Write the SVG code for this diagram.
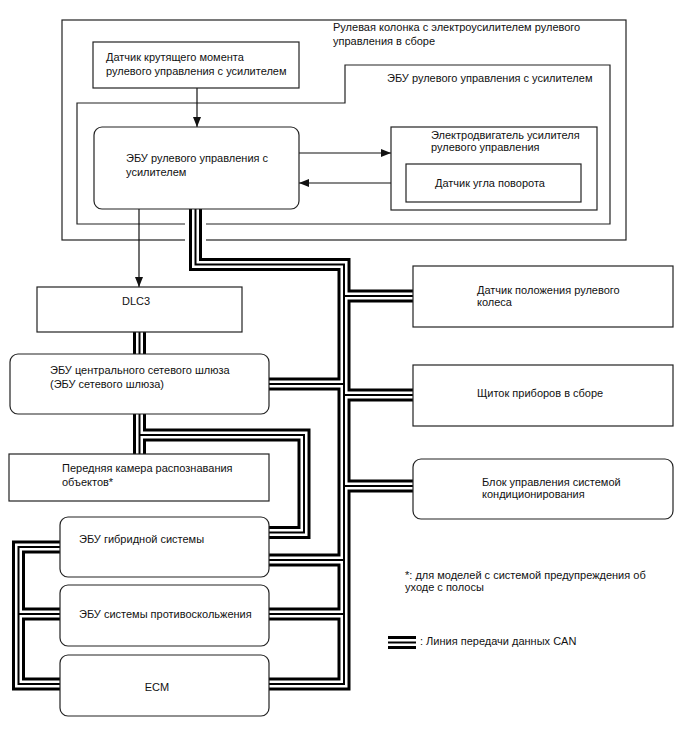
<svg xmlns="http://www.w3.org/2000/svg" xmlns:xlink="http://www.w3.org/1999/xlink" width="688" height="755" viewBox="0 0 688 755">
<style>
  text { font-family: "Liberation Sans", Arial, sans-serif; font-size: 11px; fill: #111; }
  .box { fill: #fff; stroke: #222; stroke-width: 1.2; }
  .frame { fill: none; stroke: #222; stroke-width: 1.2; }
  .arrow { fill: none; stroke: #111; stroke-width: 1.2; }
  .halo { fill: none; stroke: #fff; stroke-width: 21; stroke-linejoin: miter; stroke-linecap: butt; }
  .can-o { fill: none; stroke: #000; stroke-width: 13; stroke-linejoin: miter; stroke-linecap: butt; }
  .can-w { fill: none; stroke: #fff; stroke-width: 7; stroke-linejoin: miter; stroke-linecap: butt; }
  .can-i { fill: none; stroke: #000; stroke-width: 2; stroke-linejoin: miter; stroke-linecap: butt; }
</style>
<defs>
  <marker id="ah" markerUnits="userSpaceOnUse" markerWidth="10" markerHeight="8" refX="10" refY="4" orient="auto">
    <path d="M0,0 L10,4 L0,8 z" fill="#111"/>
  </marker>
  <path id="b1" d="M195.5,209 V264.5 H344 V684 H269"/>
  <path id="b2" d="M344,296 H413"/>
  <path id="b3" d="M269,384 H344"/>
  <path id="b4" d="M344,395 H413"/>
  <path id="b5" d="M344,486 H413"/>
  <path id="b6" d="M269,560 H344"/>
  <path id="b7" d="M269,614 H344"/>
  <path id="b8" d="M139.5,332 V354"/>
  <path id="b9" d="M139.5,414 V454"/>
  <path id="b10" d="M139.5,435 H304 V532.5 H269"/>
  <path id="b11" d="M60,547 H18.5 V684 H60"/>
  <path id="b12" d="M18.5,614 H60"/>
  <path id="leg" d="M388,642.5 H416"/>
</defs>
<rect width="688" height="755" fill="#fff"/>

<g id="frames">
  <g id="frame-column">
    <rect class="frame" x="62" y="20" width="564" height="220"/>
    <text x="333" y="31">Рулевая колонка с электроусилителем рулевого</text>
    <text x="333" y="45">управления в сборе</text>
  </g>
  <g id="frame-ecu">
    <path class="frame" d="M77,103 H345 V65 H610 V224 H77 Z"/>
    <text x="387" y="82">ЭБУ рулевого управления с усилителем</text>
  </g>
</g>

<g id="connectors">
  <g id="arrows">
    <line class="arrow" x1="197" y1="88" x2="197" y2="127" marker-end="url(#ah)"/>
    <line class="arrow" x1="299" y1="153" x2="391" y2="153" marker-end="url(#ah)"/>
    <line class="arrow" x1="406" y1="183" x2="299" y2="183" marker-end="url(#ah)"/>
    <line class="arrow" x1="139" y1="209" x2="139" y2="287" marker-end="url(#ah)"/>
  </g>
  <g id="can-bus">
    <g class="halo">
      <use href="#b1"/><use href="#b2"/><use href="#b3"/><use href="#b4"/><use href="#b5"/><use href="#b6"/><use href="#b7"/><use href="#b8"/><use href="#b9"/><use href="#b10"/><use href="#b11"/><use href="#b12"/>
    </g>
    <g class="can-o">
      <use href="#b1"/><use href="#b2"/><use href="#b3"/><use href="#b4"/><use href="#b5"/><use href="#b6"/><use href="#b7"/><use href="#b8"/><use href="#b9"/><use href="#b10"/><use href="#b11"/><use href="#b12"/>
    </g>
    <g class="can-w">
      <use href="#b1"/><use href="#b2"/><use href="#b3"/><use href="#b4"/><use href="#b5"/><use href="#b6"/><use href="#b7"/><use href="#b8"/><use href="#b9"/><use href="#b10"/><use href="#b11"/><use href="#b12"/>
    </g>
    <g class="can-i">
      <use href="#b1"/><use href="#b2"/><use href="#b3"/><use href="#b4"/><use href="#b5"/><use href="#b6"/><use href="#b7"/><use href="#b8"/><use href="#b9"/><use href="#b10"/><use href="#b11"/><use href="#b12"/>
    </g>
  </g>
</g>

<g id="torque-sensor">
  <rect class="box" x="93" y="42" width="206" height="46"/>
  <text x="106" y="61">Датчик крутящего момента</text>
  <text x="106" y="75">рулевого управления с усилителем</text>
</g>
<g id="eps-ecu">
  <rect class="box" x="94" y="127" width="205" height="82" rx="8"/>
  <text x="126" y="162">ЭБУ рулевого управления с</text>
  <text x="126" y="176">усилителем</text>
</g>
<g id="eps-motor">
  <rect class="box" x="391" y="127" width="206" height="83"/>
  <text x="431" y="139">Электродвигатель усилителя</text>
  <text x="431" y="151">рулевого управления</text>
</g>
<g id="angle-sensor">
  <rect class="box" x="406" y="164" width="175" height="38"/>
  <text x="435" y="187">Датчик угла поворота</text>
</g>
<g id="dlc3">
  <rect class="box" x="37" y="287" width="205" height="45"/>
  <text x="136" y="305" text-anchor="middle">DLC3</text>
</g>
<g id="gateway-ecu">
  <rect class="box" x="10" y="354" width="259" height="60" rx="8"/>
  <text x="50" y="374">ЭБУ центрального сетевого шлюза</text>
  <text x="50" y="388">(ЭБУ сетевого шлюза)</text>
</g>
<g id="camera">
  <rect class="box" x="9" y="454" width="260" height="47"/>
  <text x="62" y="472">Передняя камера распознавания</text>
  <text x="62" y="486">объектов*</text>
</g>
<g id="hybrid-ecu">
  <rect class="box" x="60" y="517" width="209" height="60" rx="8"/>
  <text x="79" y="543">ЭБУ гибридной системы</text>
</g>
<g id="skid-ecu">
  <rect class="box" x="60" y="585" width="209" height="61" rx="8"/>
  <text x="79" y="618">ЭБУ системы противоскольжения</text>
</g>
<g id="ecm">
  <rect class="box" x="60" y="655" width="209" height="61" rx="8"/>
  <text x="157" y="691" text-anchor="middle">ECM</text>
</g>
<g id="wheel-sensor">
  <rect class="box" x="413" y="266" width="260" height="61"/>
  <text x="477" y="294">Датчик положения рулевого</text>
  <text x="477" y="306">колеса</text>
</g>
<g id="combination-meter">
  <rect class="box" x="413" y="365" width="260" height="61"/>
  <text x="477" y="397">Щиток приборов в сборе</text>
</g>
<g id="ac-amplifier">
  <rect class="box" x="413" y="459" width="260" height="60" rx="8"/>
  <text x="482" y="486">Блок управления системой</text>
  <text x="482" y="498">кондиционирования</text>
</g>

<g id="notes">
  <text x="405" y="579">*: для моделей с системой предупреждения об</text>
  <text x="405" y="591">уходе с полосы</text>
  <g id="legend">
    <use href="#leg" class="can-o"/>
    <use href="#leg" class="can-w"/>
    <use href="#leg" class="can-i"/>
    <text x="420" y="645">: Линия передачи данных CAN</text>
  </g>
</g>
</svg>
